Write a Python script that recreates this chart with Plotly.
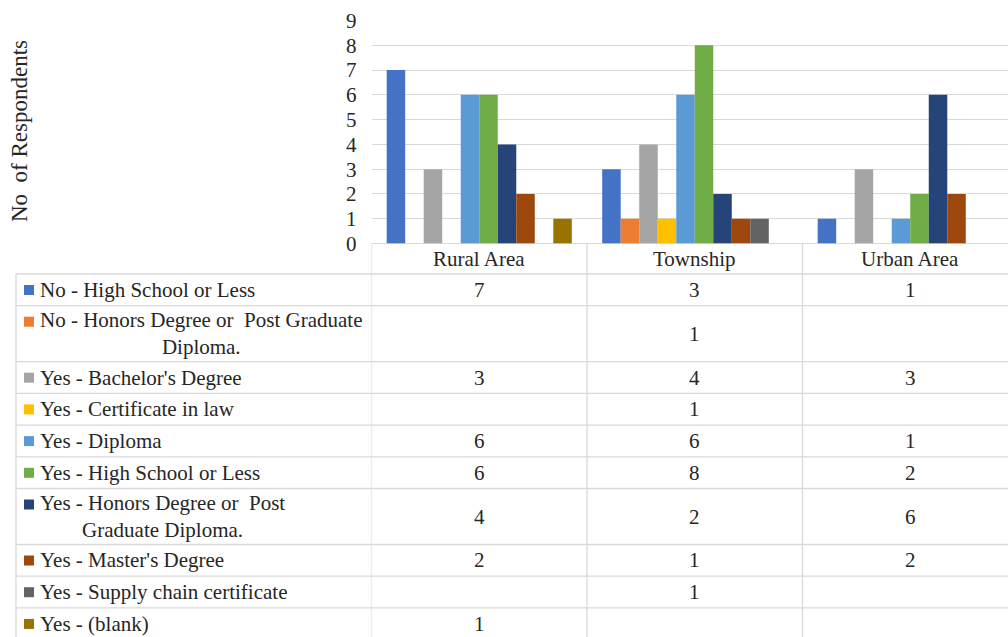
import plotly.graph_objects as go

# ---------------- data ----------------
categories = ["Rural Area", "Township", "Urban Area"]

series_names = [
    "No - High School or Less",
    "No - Honors Degree or  Post Graduate Diploma.",
    "Yes - Bachelor's Degree",
    "Yes - Certificate in law",
    "Yes - Diploma",
    "Yes - High School or Less",
    "Yes - Honors Degree or  Post Graduate Diploma.",
    "Yes - Master's Degree",
    "Yes - Supply chain certificate",
    "Yes - (blank)",
]
# labels as wrapped in the data table
table_labels = [
    "No - High School or Less",
    "No - Honors Degree or&nbsp; Post Graduate<br>Diploma.",
    "Yes - Bachelor's Degree",
    "Yes - Certificate in law",
    "Yes - Diploma",
    "Yes - High School or Less",
    "Yes - Honors Degree or&nbsp; Post<br>Graduate Diploma.",
    "Yes - Master's Degree",
    "Yes - Supply chain certificate",
    "Yes - (blank)",
]

no_high_school = [7, 3, 1]
no_honors = [None, 1, None]
yes_bachelors = [3, 4, 3]
yes_certificate_law = [None, 1, None]
yes_diploma = [6, 6, 1]
yes_high_school = [6, 8, 2]
yes_honors = [4, 2, 6]
yes_masters = [2, 1, 2]
yes_supply_chain = [None, 1, None]
yes_blank = [1, None, None]

series_values = [
    no_high_school, no_honors, yes_bachelors, yes_certificate_law, yes_diploma,
    yes_high_school, yes_honors, yes_masters, yes_supply_chain, yes_blank,
]

y_ticks = list(range(0, 10))
y_title = "No&nbsp; of Respondents"

# ---------------- styles / layout ----------------
colors = ["#4472C4", "#ED7D31", "#A5A5A5", "#FFC000", "#5B9BD5",
          "#70AD47", "#264478", "#9E480E", "#636363", "#997300"]

W, H = 1008, 637
FONT = "Liberation Serif, Times New Roman, serif"
TXT = "#262626"
GRID = "#d9d9d9"
FS = 21

plot_left, col_w = 371.5, 215.5
plot_top, plot_bottom = 20.5, 243.5
table_left, label_text_x, key_x0, key_x1 = 16, 38, 24, 34
header_bottom = 274
single_h, double_h = 31.7, 56.0


def px_x(p):
    return p / W


def px_y(p):
    return 1 - p / H


fig = go.Figure()
for name, vals, col in zip(series_names, series_values, colors):
    fig.add_trace(go.Bar(
        x=categories, y=vals, name=name,
        marker=dict(color=col, line=dict(width=0)),
    ))

x_end = 2.5 - (plot_left + 3 * col_w - W) / col_w

shapes = []
annotations = []

# row boundaries from the number of text lines
row_tops = []
y = header_bottom
for lab in table_labels:
    row_tops.append(y)
    y += double_h if "<br>" in lab else single_h
row_bottoms = row_tops[1:] + [y]

# horizontal table lines
for yy in [header_bottom] + row_bottoms:
    shapes.append(dict(type="line", xref="paper", yref="paper",
                       x0=px_x(table_left), x1=1, y0=px_y(yy), y1=px_y(yy),
                       line=dict(color=GRID, width=1.3), layer="above"))
# left border
shapes.append(dict(type="line", xref="paper", yref="paper",
                   x0=px_x(table_left), x1=px_x(table_left),
                   y0=px_y(header_bottom), y1=px_y(y),
                   line=dict(color=GRID, width=1.3)))
# column separators (through the category scale)
for k in range(len(categories)):
    xv = k - 0.5
    shapes.append(dict(type="line", xref="x", yref="paper",
                       x0=xv, x1=xv, y0=px_y(plot_bottom), y1=px_y(y),
                       line=dict(color=GRID, width=1.3)))

# header labels
for k, c in enumerate(categories):
    annotations.append(dict(text=c, xref="x", yref="paper", x=k,
                            y=px_y((plot_bottom + header_bottom) / 2),
                            showarrow=False, xanchor="center", yanchor="middle",
                            font=dict(family=FONT, size=FS, color=TXT)))

# rows
for i, (lab, vals, col) in enumerate(zip(table_labels, series_values, colors)):
    top, bot = row_tops[i], row_bottoms[i]
    cy = (top + bot) / 2
    key_cy = top + 16
    shapes.append(dict(type="rect", xref="paper", yref="paper",
                       x0=px_x(key_x0), x1=px_x(key_x1),
                       y0=px_y(key_cy - 5), y1=px_y(key_cy + 5),
                       fillcolor=col, line=dict(width=0)))
    annotations.append(dict(text=lab, xref="paper", yref="paper",
                            x=px_x(label_text_x), y=px_y(cy),
                            showarrow=False, xanchor="left", yanchor="middle",
                            align="center",
                            font=dict(family=FONT, size=FS, color=TXT)))
    for k, v in enumerate(vals):
        if v is None:
            continue
        annotations.append(dict(text=str(v), xref="x", yref="paper", x=k,
                                y=px_y(cy), showarrow=False,
                                xanchor="center", yanchor="middle",
                                font=dict(family=FONT, size=FS, color=TXT)))

# y axis title
annotations.append(dict(text=y_title, xref="paper", yref="paper",
                        x=px_x(19), y=px_y(131),
                        textangle=-90, showarrow=False,
                        xanchor="center", yanchor="middle",
                        font=dict(family=FONT, size=23, color=TXT)))

fig.update_layout(
    width=W, height=H,
    margin=dict(l=0, r=0, t=0, b=0, pad=0, autoexpand=False),
    paper_bgcolor="white", plot_bgcolor="white",
    barmode="group", bargap=0.141, bargroupgap=0,
    showlegend=False,
    xaxis=dict(domain=[px_x(plot_left), 1], range=[-0.5, x_end],
               showticklabels=False, showgrid=False, zeroline=False,
               showline=False, ticks="", automargin=False),
    yaxis=dict(domain=[px_y(plot_bottom), px_y(plot_top)], range=[0, 9],
               tickvals=y_ticks, showgrid=True, gridcolor=GRID, gridwidth=1.3,
               zeroline=True, zerolinecolor=GRID, zerolinewidth=1.3,
               showline=False, ticks="", ticklabelstandoff=14, automargin=False,
               tickfont=dict(family=FONT, size=FS, color=TXT)),
    shapes=shapes,
    annotations=annotations,
)

fig.write_html("out.html")
